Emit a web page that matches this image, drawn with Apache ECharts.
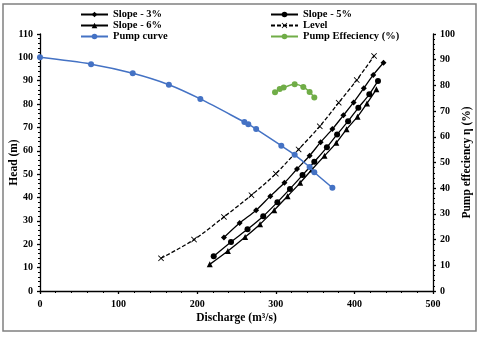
<!DOCTYPE html>
<html>
<head>
<meta charset="utf-8">
<script src="https://cdn.jsdelivr.net/npm/echarts@6/dist/echarts.min.js"></script>
<style>
  html, body { margin: 0; padding: 0; background: #fff; }
  #chart { width: 480px; height: 337px; }
</style>
</head>
<body>
<div id="chart"></div>
<script>
var pumpQ = [0, 65, 118, 164, 204, 260, 265, 275, 307, 324, 343, 349, 372];
var pumpH = [100, 97.1, 93.2, 88.3, 82.2, 72.3, 71.4, 69.3, 62.2, 58.3, 53.1, 50.8, 44.2];

var effQ = [299, 305, 310, 324, 335, 343, 349];
var effV = [77.3, 78.6, 79.2, 80.4, 79.4, 77.4, 75.3];

var levelQ = [154, 196, 234, 269, 300, 329, 356, 380, 403, 425];
var levelH = [14, 22, 31.7, 41, 50.2, 60.6, 70.5, 80.6, 90.3, 100.6];

var s3Q = [234, 254, 275, 293, 311, 327, 343, 357, 372, 386, 399, 412, 424, 437];
var s3H = [22.9, 29.1, 34.6, 40.6, 46.3, 52.2, 57.9, 63.7, 69.3, 75.2, 80.7, 86.8, 92.5, 97.7];

var s5Q = [221, 243, 264, 284, 302, 318, 334, 349, 365, 378, 392, 405, 419, 430];
var s5H = [14.9, 21, 26.4, 32, 38, 43.7, 49.6, 55.3, 61.5, 67, 72.7, 78.4, 84.2, 89.9];

var s6Q = [216, 239, 261, 280, 298, 315, 331, 346, 362, 377, 390, 404, 416, 428];
var s6H = [11.4, 17.1, 23.1, 28.6, 34.6, 40.6, 46.3, 52, 57.9, 63.4, 69.2, 74.6, 80.3, 86.3];

function zip(a, b) {
    return a.map(function (v, i) { return [v, b[i]]; });
}

var font = 'Liberation Serif';
var crossMark = 'path://M0,1L1,0L5,4L9,0L10,1L6,5L10,9L9,10L5,6L1,10L0,9L4,5Z';

var myChart = echarts.init(document.getElementById('chart'));

var axisText = { color: '#000', fontFamily: font, fontWeight: 'bold', fontSize: 10 };
var axisNameText = { color: '#000', fontFamily: font, fontWeight: 'bold', fontSize: 11.5 };
var legendText = { color: '#000', fontFamily: font, fontWeight: 'bold', fontSize: 10.5, lineHeight: 11 };

function blackLine(name, q, h, symbol, size, dashed) {
    return {
        name: name,
        type: 'line',
        yAxisIndex: 0,
        data: zip(q, h),
        smooth: 0.3,
        symbol: symbol,
        symbolSize: size,
        showAllSymbol: true,
        lineStyle: { color: '#000', width: 1.3, type: dashed ? [4, 2] : 'solid' },
        itemStyle: { color: '#000' },
        z: 3
    };
}

var option = {
    animation: false,
    textStyle: { fontFamily: font },
    graphic: [{
        type: 'rect',
        shape: { x: 3, y: 4, width: 473, height: 327 },
        style: { fill: 'none', stroke: '#808080', lineWidth: 1.5 },
        silent: true
    }],
    legend: [{
        orient: 'vertical',
        left: 80,
        top: 9,
        padding: 0,
        itemWidth: 27,
        itemHeight: 7,
        itemGap: 0,
        textStyle: legendText,
        data: ['Slope - 3%', 'Slope - 6%', 'Pump curve']
    }, {
        orient: 'vertical',
        left: 270,
        top: 9,
        padding: 0,
        itemWidth: 27,
        itemHeight: 7,
        itemGap: 0,
        textStyle: legendText,
        data: ['Slope - 5%', 'Level', 'Pump Effeciency (%)']
    }],
    grid: { left: 40, right: 47, top: 34, bottom: 46, containLabel: false, outerBoundsMode: 'none' },
    xAxis: {
        type: 'value',
        min: 0,
        max: 500,
        interval: 100,
        name: 'Discharge (m³/s)',
        nameLocation: 'middle',
        nameGap: 21,
        nameMoveOverlap: false,
        nameTextStyle: axisNameText,
        axisLine: { lineStyle: { color: '#000', width: 1.3 } },
        axisTick: { length: 3, lineStyle: { color: '#000', width: 1.3 } },
        minorTick: { show: true, splitNumber: 5, length: 2, lineStyle: { color: '#000' } },
        axisLabel: axisText,
        splitLine: { show: false }
    },
    yAxis: [{
        type: 'value',
        min: 0,
        max: 110,
        interval: 10,
        name: 'Head (m)',
        nameLocation: 'middle',
        nameRotate: 90,
        nameGap: 20,
        nameMoveOverlap: false,
        nameTextStyle: axisNameText,
        axisLine: { show: true, lineStyle: { color: '#000', width: 1.3 } },
        axisTick: { length: 3, lineStyle: { color: '#000', width: 1.3 } },
        minorTick: { show: true, splitNumber: 5, length: 2, lineStyle: { color: '#000' } },
        axisLabel: Object.assign({ margin: 7 }, axisText),
        splitLine: { show: false }
    }, {
        type: 'value',
        position: 'right',
        min: 0,
        max: 100,
        interval: 10,
        name: 'Pump effeciency η (%)',
        nameLocation: 'middle',
        nameRotate: 90,
        nameGap: 28,
        nameMoveOverlap: false,
        nameTextStyle: axisNameText,
        axisLine: { show: true, lineStyle: { color: '#000', width: 1.3 } },
        axisTick: { length: 3, lineStyle: { color: '#000', width: 1.3 } },
        minorTick: { show: true, splitNumber: 5, length: 2, lineStyle: { color: '#000' } },
        axisLabel: Object.assign({ margin: 7 }, axisText),
        splitLine: { show: false }
    }],
    series: [
        blackLine('Slope - 3%', s3Q, s3H, 'diamond', 6, false),
        blackLine('Slope - 5%', s5Q, s5H, 'circle', 6, false),
        blackLine('Slope - 6%', s6Q, s6H, 'triangle', 6, false),
        blackLine('Level', levelQ, levelH, crossMark, 6, true),
        {
            name: 'Pump curve',
            type: 'line',
            yAxisIndex: 0,
            data: zip(pumpQ, pumpH),
            smooth: 0.3,
            symbol: 'circle',
            symbolSize: 6,
            showAllSymbol: true,
            lineStyle: { color: '#4472C4', width: 1.5 },
            itemStyle: { color: '#4472C4' },
            z: 4
        },
        {
            name: 'Pump Effeciency (%)',
            type: 'line',
            yAxisIndex: 1,
            data: zip(effQ, effV),
            smooth: 0.3,
            symbol: 'circle',
            symbolSize: 6,
            showAllSymbol: true,
            lineStyle: { color: '#70AD47', width: 1.5 },
            itemStyle: { color: '#70AD47' },
            z: 4
        }
    ]
};

myChart.setOption(option);
</script>
</body>
</html>
